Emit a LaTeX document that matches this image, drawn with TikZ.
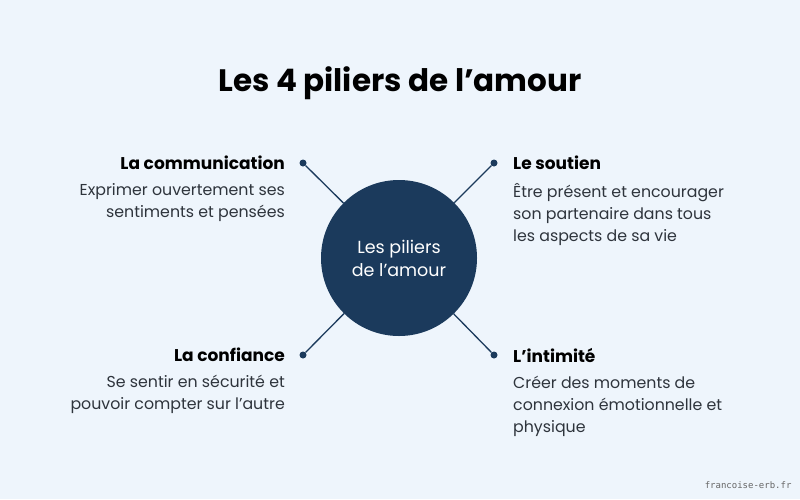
\documentclass[tikz,border=0pt]{standalone}
\usepackage{fontspec}
\setmainfont{Poppins}
\setmonofont{DejaVu Sans Mono}
\definecolor{navy}{HTML}{1B3A5C}
\definecolor{bgblue}{HTML}{EEF5FC}
\definecolor{txt}{HTML}{2E343C}
\begin{document}
\begin{tikzpicture}[x=1pt,y=-1pt]
    \tikzstyle{dot}=[circle,fill=navy,minimum size=7pt,inner sep=0pt]
    \tikzstyle{head}=[font=\fontsize{17}{20}\selectfont\bfseries,text=black,inner sep=0pt]
    \tikzstyle{body}=[font=\fontsize{15.8}{22}\selectfont,text=txt,inner sep=0pt,align=left]
    \tikzstyle{link}=[draw=navy,line width=1.3pt]

    % background
    \fill[bgblue] (0,0) rectangle (800,499);
    \useasboundingbox (0,0) rectangle (800,499);

    % title
    \node[font=\fontsize{31}{36}\selectfont\bfseries,text=black] (title) at (400,83) {Les 4 piliers de l’amour};

    % centre circle
    \node[circle,fill=navy,minimum size=156pt,inner sep=0pt,text=white,align=center,
          font=\fontsize{17.5}{23}\selectfont] (hub) at (399,258) {Les piliers\\de l’amour};

    % the four dots
    \node[dot] (d-nw) at (303,163) {};
    \node[dot] (d-ne) at (494,163) {};
    \node[dot] (d-sw) at (303,355) {};
    \node[dot] (d-se) at (494,355) {};
    \foreach \name in {nw,ne,sw,se}
        \path[link] (d-\name) -- (hub);

    % left texts
    \node[head,anchor=east] (h-nw) at (285,163) {La communication};
    \node[body,anchor=north east,align=right] (b-nw) at (285,183) {Exprimer ouvertement ses\\sentiments et pensées};
    \node[head,anchor=east] (h-sw) at (285,355) {La confiance};
    \node[body,anchor=north east,align=right] (b-sw) at (285,375) {Se sentir en sécurité et\\pouvoir compter sur l’autre};

    % right texts
    \node[head,anchor=west] (h-ne) at (513,163) {Le soutien};
    \node[body,anchor=north west] (b-ne) at (513,183) {Être présent et encourager\\son partenaire dans tous\\les aspects de sa vie};
    \node[head,anchor=west] (h-se) at (513,355) {L’intimité};
    \node[body,anchor=north west] (b-se) at (513,376) {Créer des moments de\\connexion émotionnelle et\\physique};

    % watermark
    \node[font=\ttfamily\fontsize{9}{10}\selectfont,text=black!60,anchor=east] (mark) at (795,485) {francoise-erb.fr};
\end{tikzpicture}
\end{document}
